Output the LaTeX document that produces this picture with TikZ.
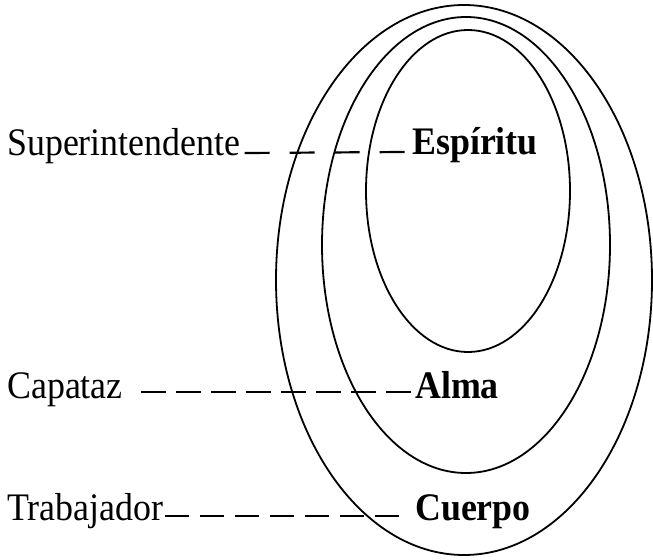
\documentclass[tikz,border=0pt]{standalone}
\usepackage{fontspec}
\setmainfont{Liberation Serif}[FakeStretch=0.92]
\usetikzlibrary{calc}
\tikzset{
  lbl/.style={anchor=base west, inner sep=0pt, font=\fontsize{39bp}{42bp}\selectfont},
  blbl/.style={lbl, font=\fontsize{39bp}{42bp}\selectfont\bfseries},
  ring/.style={line width=1.8bp, black},
  dashline/.style={line width=2.2bp, black}
}
\begin{document}
\begin{tikzpicture}[x=1bp,y=-1bp]
\useasboundingbox (0,0) rectangle (653,560);
% nested ellipses
\draw[ring] (464,280) ellipse [x radius=188, y radius=275];
\draw[ring] (466,245) ellipse [x radius=144, y radius=228];
\draw[ring] (468,191) ellipse [x radius=102, y radius=161];
% labels
\node[lbl] (sup) at (7,156) {Superintendente};
\node[lbl] (cap) at (7,398) {Capataz};
\node[lbl] (tra) at (7,520) {Trabajador};
\node[blbl] (esp) at (412,155) {Espíritu};
\node[blbl] (alm) at (415,398) {Alma};
\node[blbl] (cue) at (415,520) {Cuerpo};
% dashed connectors
\draw[dashline, dash pattern=on 25bp off 20bp] ($(sup.base east)+(4,-3)$) -- ($(esp.base west)+(-6,-3)$);
\draw[dashline, dash pattern=on 25bp off 10bp] ($(cap.base east)+(18,-6)$) -- ($(alm.base west)+(-3,-6)$);
\draw[dashline, dash pattern=on 24bp off 11bp] ($(tra.base east)+(1,-4)$) -- ($(cue.base west)+(-15,-4)$);
\end{tikzpicture}
\end{document}
